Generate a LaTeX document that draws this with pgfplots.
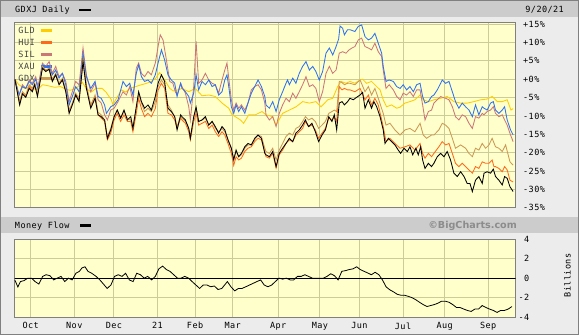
\documentclass[border=0pt]{standalone}
\usepackage{pgfplots}
\pgfplotsset{compat=1.18}
\usepackage{fontspec}
\setmainfont{DejaVu Sans}
\newfontfamily\cf{DejaVu Sans Mono}[LetterSpace=5]
\definecolor{bgc}{HTML}{ECECEC}
\definecolor{hdr}{HTML}{CCCCCC}
\definecolor{plotbg}{HTML}{FFFFCC}
\definecolor{gridc}{HTML}{CCCC99}
\definecolor{axc}{HTML}{808080}
\definecolor{legtxt}{HTML}{444444}
\definecolor{copyc}{HTML}{8C8C8C}
\definecolor{cGLD}{HTML}{FFCC00}
\definecolor{cHUI}{HTML}{FF6A1A}
\definecolor{cSIL}{HTML}{CC7777}
\definecolor{cXAU}{HTML}{2F72F0}
\definecolor{cGDX}{HTML}{CC9955}
\newcommand{\lf}{\cf\fontsize{8.5bp}{10bp}\selectfont}
\pgfplotsset{
  panel/.style={scale only axis, width=501bp, xmin=-0.2, xmax=252.8,
    axis background/.style={fill=plotbg},
    grid=major, major grid style={draw=gridc, line width=0.9bp},
    major tick length=0pt, tick style={draw=none},
    axis line style={draw=axc, line width=1bp},
    xtick={8,30,50,72,91,110,133,154,174,196,217,239},
    yticklabel pos=right,
    ticklabel style={font=\lf},
    clip=true},
  ser/.style={line width=0.85bp, mark=none}
}
\begin{document}
\begin{tikzpicture}
\useasboundingbox (0,0) rectangle (579bp,-335bp);
\fill[bgc] (0,0) rectangle (579bp,-335bp);
\fill[hdr] (0,0) rectangle (579bp,-17bp);
\fill[hdr] (0,-217bp) rectangle (579bp,-232.7bp);
\draw[axc, line width=1bp] (0.5bp,-0.5bp) rectangle (578.5bp,-334.5bp);

\begin{axis}[panel, at={(14.5bp,-207.7bp)}, anchor=south west, height=185bp,
  ymin=-35, ymax=15.4, xticklabels={},
  ytick={-35,-30,-25,-20,-15,-10,-5,0,5,10,15},
  yticklabels={-35\%,-30\%,-25\%,-20\%,-15\%,-10\%,-5\%,+0\%,+5\%,+10\%,+15\%},
  yticklabel style={anchor=west, inner sep=0pt, xshift=7.5bp}]
% legend
\node[anchor=west, text=legtxt, font=\lf, inner sep=0pt] at ([xshift=3.8bp,yshift=-8bp]rel axis cs:0,1) {GLD};
\node[anchor=west, text=legtxt, font=\lf, inner sep=0pt] at ([xshift=3.8bp,yshift=-20bp]rel axis cs:0,1) {HUI};
\node[anchor=west, text=legtxt, font=\lf, inner sep=0pt] at ([xshift=3.8bp,yshift=-32bp]rel axis cs:0,1) {SIL};
\node[anchor=west, text=legtxt, font=\lf, inner sep=0pt] at ([xshift=3.8bp,yshift=-44bp]rel axis cs:0,1) {XAU};
\node[anchor=west, text=legtxt, font=\lf, inner sep=0pt] at ([xshift=3.8bp,yshift=-56bp]rel axis cs:0,1) {GDX};
\draw[cGLD, line width=2.5bp] ([xshift=26.2bp,yshift=-8bp]rel axis cs:0,1) -- ([xshift=37.2bp,yshift=-8bp]rel axis cs:0,1);
\draw[cHUI, line width=2.5bp] ([xshift=26.2bp,yshift=-20bp]rel axis cs:0,1) -- ([xshift=37.2bp,yshift=-20bp]rel axis cs:0,1);
\draw[cSIL, line width=2.5bp] ([xshift=26.2bp,yshift=-32bp]rel axis cs:0,1) -- ([xshift=37.2bp,yshift=-32bp]rel axis cs:0,1);
\draw[cXAU, line width=2.5bp] ([xshift=26.2bp,yshift=-44bp]rel axis cs:0,1) -- ([xshift=37.2bp,yshift=-44bp]rel axis cs:0,1);
\draw[cGDX, line width=2.5bp] ([xshift=26.2bp,yshift=-56bp]rel axis cs:0,1) -- ([xshift=37.2bp,yshift=-56bp]rel axis cs:0,1);

% GLD
\addplot[ser, cGLD] coordinates {(0,0) (2,-1.5) (5,-2.5) (8,-2.0) (11,-3.0) (14,-1.5) (17,-1.8) (20,-2.2) (23,-2.0) (26,-2.8) (28,-3.0) (31,-2.5) (34,-0.8) (36,-2.5) (38.5,-3.5) (41,-2.5) (44,-2.5) (46,-3.5) (48.7,-5.6) (49.5,-7.0) (51,-5.5) (53.8,-2.9) (56,-3.5) (58,-2.5) (61,-2.0) (63.9,-1.5) (66,-1.2) (68.9,-0.6) (71,0.2) (73.1,1.8) (75.6,-0.2) (78.2,-2.5) (80,-3.2) (82.4,-2.9) (84.4,-2.5) (87.8,-3.4) (91.1,-2.5) (94.5,-4.5) (97.9,-4.3) (101.2,-4.7) (104.6,-6.5) (108,-7.9) (109.7,-9.7) (111.3,-10.2) (113.9,-11.1) (115.5,-12.0) (118.1,-9.7) (121.4,-9.7) (124.8,-8.8) (126.8,-9.7) (130.2,-10.2) (131.9,-12.5) (135.2,-9.3) (138.6,-8.4) (142,-7.5) (145.3,-6.1) (148.7,-6.5) (152,-6.1) (154.6,-7.5) (158,-5.6) (160.5,-5.2) (163,-2.0) (164.7,-0.6) (167.2,-1.1) (169.2,-0.6) (171.7,-1.1) (174.3,-0.2) (175.6,0) (177.6,-1.1) (180.1,-0.6) (182.7,-2.0) (184.4,-2.9) (186,-5.6) (187.7,-7.5) (190.2,-7.0) (192.8,-7.9) (194.5,-7.6) (197,-6.5) (199.5,-6.1) (202,-5.6) (204.6,-4.3) (206.2,-5.6) (208.8,-6.1) (211.6,-5.6) (215,-5.2) (218.3,-4.7) (221.7,-6.1) (225.1,-6.5) (228.4,-6.5) (231.8,-6.1) (235.2,-5.6) (238.5,-5.4) (241,-4.7) (243.6,-6.1) (246.1,-6.1) (248.6,-5.6) (250.5,-8.4) (251.6,-8.0)};
% HUI
\addplot[ser, cHUI] coordinates {(0,0) (2.4,-6.5) (3.8,-3.6) (5.5,-4.7) (7.2,-2.0) (8.8,-3.0) (10,-1.3) (11.4,-4.3) (13.9,3.2) (15.6,2.3) (17.3,2.8) (18.9,-0.4) (20.6,1.4) (22.3,-1.3) (24,0) (25.7,-3.2) (27.4,-9.0) (29,-6.8) (30.7,-4.1) (32.4,-5.6) (34.4,5.0) (36.1,-2.0) (38.3,-7.5) (40.5,-4.8) (42,-9.7) (43.6,-10.6) (45.3,-11.5) (46.7,-16.5) (48.4,-14.7) (50.1,-11.1) (51.7,-9.3) (53.4,-11.5) (55.1,-9.7) (56.8,-11.5) (58.5,-11.5) (59.6,-14.3) (61.3,-9.3) (62.5,-5.2) (63.9,-8.0) (65.5,-10.2) (67.2,-9.3) (68.9,-10.2) (70.9,-8.0) (72.3,-3.0) (74,-1.1) (75.6,-2.5) (77.3,-9.3) (79,-9.7) (80.7,-11.1) (81.9,-13.4) (83.7,-10.6) (84.4,-11.1) (86.1,-12.0) (87.8,-14.3) (88.6,-16.5) (90.3,-11.5) (91.5,-9.3) (92.8,-12.5) (94.5,-12.0) (96.2,-11.5) (97.9,-13.4) (99.6,-12.5) (101.2,-14.3) (102.9,-15.6) (104.6,-14.3) (106,-15.2) (107.6,-17.5) (109.3,-20.2) (110.5,-23.5) (111.7,-21.1) (113,-22.0) (114.4,-21.5) (116.1,-19.7) (117.7,-18.8) (119.4,-18.4) (121.1,-17.0) (122.8,-16.1) (124.5,-16.5) (126.2,-19.7) (126.8,-21.1) (128.5,-21.5) (130.2,-20.2) (131.9,-24.2) (133.5,-20.6) (135.2,-19.3) (136.9,-17.5) (138.6,-16.5) (140.3,-17.0) (141.9,-15.2) (143.6,-14.3) (145.3,-13.4) (146.7,-11.5) (148.3,-12.9) (150,-12.5) (151.7,-13.8) (153.4,-16.1) (155.1,-14.7) (156.8,-13.4) (158.5,-10.6) (160.1,-11.1) (161.3,-10.2) (162.5,-11.5) (163.8,-2.0) (165.2,-2.9) (166.4,-2.5) (168,-2.9) (169.2,-2.9) (171.7,-3.4) (174.3,-2.5) (176.8,-5.6) (178.5,-4.3) (180.1,-7.0) (181.8,-5.2) (183.5,-7.0) (186,-12.9) (187.4,-17.0) (189.4,-16.1) (191.9,-17.5) (194.5,-18.8) (197,-18.4) (199.5,-17.9) (202,-19.3) (204.6,-17.5) (205.9,-20.2) (207.1,-21.5) (208.8,-20.2) (210.4,-21.1) (211.6,-20.2) (214.1,-18.4) (215.8,-17.0) (217.5,-17.9) (219.2,-17.5) (220.9,-20.2) (222.5,-22.9) (224.2,-23.8) (225.9,-22.9) (227.6,-23.8) (229.3,-24.7) (231,-25.6) (232.6,-23.8) (234.3,-24.3) (236,-22.5) (237.7,-22.9) (239.4,-22.9) (241,-22.0) (241.9,-23.8) (242.7,-23.8) (244.4,-24.3) (246.1,-25.2) (247.3,-23.8) (248.6,-24.7) (250,-27.5) (251.6,-28.0)};
% SIL
\addplot[ser, cSIL] coordinates {(0,0) (2.1,-4.3) (3.8,-1.5) (5.5,-2.5) (7.2,-0.2) (8.8,-1.1) (10.5,0.7) (11.7,-2.0) (13.9,4.4) (15.6,3.5) (17.3,4.8) (18.9,1.6) (20.6,3.5) (22.3,0.7) (24,1.6) (25.7,-0.6) (27.4,-6.1) (29,-3.4) (30.7,-0.6) (32.4,-1.5) (34.4,8.5) (36.1,1.2) (38.3,-3.4) (40.5,-1.1) (42,-5.6) (43.6,-6.5) (45.3,-9.7) (46.7,-11.1) (48.4,-8.4) (50.1,-7.9) (52.1,-6.1) (54.6,-3.4) (56.3,-4.3) (58,-2.0) (59.6,-6.1) (61.3,3.0) (62.5,4.4) (63.9,1.6) (65.5,0.7) (67.2,2.1) (68.9,1.2) (70.9,4.4) (72.3,8.9) (73.4,12.1) (74.8,10.7) (76.5,5.3) (78.2,-0.6) (79.8,-1.1) (81,-3.4) (81.9,-4.3) (83.7,-1.1) (84.4,-2.0) (86.1,-3.8) (87.8,-7.5) (88.6,-11.1) (90.3,-2.0) (91.5,10.3) (92.8,-1.1) (94.5,-0.2) (96.2,1.6) (97.9,-0.2) (99.6,-1.1) (101.2,-1.5) (102.9,-3.8) (104.6,-0.2) (106,2.5) (107.1,4.4) (108,0.3) (109.3,-5.6) (110.5,-8.4) (111.7,-6.5) (113,-7.9) (114.4,-7.0) (116.1,-8.4) (117.7,-6.5) (119.4,-2.9) (121.1,-2.0) (122.8,-1.5) (124.5,-2.9) (126.2,-6.5) (126.8,-9.7) (128.5,-11.1) (130.2,-10.2) (131.9,-12.9) (133.5,-9.3) (135.2,-7.0) (136.9,-5.2) (138.6,-6.1) (140.3,-3.8) (141.9,-5.2) (143.6,-3.4) (145.3,-1.5) (147,0.7) (148.7,-2.0) (150.4,-1.5) (152,-2.5) (153.7,-6.1) (155.4,-3.4) (157.1,1.6) (158.8,3.5) (160.5,1.6) (162.2,2.5) (163.8,7.1) (165.5,7.5) (167.2,7.1) (168.8,8.0) (170.2,8.5) (171.7,8.9) (173.4,10.7) (175.1,11.2) (176.8,8.9) (178.5,8.5) (180.1,8.0) (181.8,9.8) (183.5,7.5) (185.2,6.2) (186,2.5) (187.4,-2.5) (189,-1.5) (191.1,-2.9) (192.8,-4.7) (194.5,-5.6) (196.1,-3.8) (197.8,-4.3) (199.5,-3.4) (201.2,-4.7) (202.9,-2.9) (204.6,-2.9) (205.9,-7.0) (207.1,-11.1) (208.8,-8.8) (210.4,-8.4) (211.6,-6.5) (213.3,-5.6) (215,-4.7) (215.8,-4.9) (217.5,-5.2) (219.2,-5.6) (220.9,-7.5) (222.5,-10.2) (224.2,-11.1) (225.9,-9.7) (227.6,-10.2) (229.3,-12.0) (231,-13.4) (232.6,-10.2) (234.3,-10.6) (236,-9.3) (236.9,-9.7) (238.5,-8.8) (240.2,-8.4) (241.6,-7.5) (242.7,-9.3) (244.4,-10.2) (246.1,-9.7) (247.3,-11.1) (248.6,-12.5) (250.3,-15.2) (251.6,-17.0)};
% XAU
\addplot[ser, cXAU] coordinates {(0,0) (2.1,-4.3) (3.8,-2.0) (5.5,-2.5) (7.2,-0.6) (8.8,-1.5) (10.5,0) (11.7,-2.9) (13.9,3.9) (15.6,3.5) (17.3,3.5) (18.9,1.2) (20.6,2.5) (22.3,0.3) (24,1.6) (25.7,-1.5) (27.4,-7.0) (29,-4.7) (30.7,-2.0) (32.4,-3.4) (34.4,7.1) (36.1,0.7) (38.3,-2.5) (40.5,-0.6) (42,-4.7) (43.6,-5.2) (45.3,-7.0) (46.2,-9.3) (48.4,-7.5) (50.1,-7.0) (52.1,-5.6) (54.6,-0.6) (56.3,-2.0) (58,-1.1) (59.6,-4.3) (61.3,1.6) (62.5,3.9) (63.9,0.7) (65.5,-0.6) (67.2,-0.2) (68.9,-1.1) (70.9,1.2) (72.3,4.4) (74,8.0) (75.6,5.3) (77.3,1.2) (79,-0.2) (80.7,-1.1) (81.9,-4.7) (83.7,-1.1) (84.4,-2.5) (86.1,-3.4) (87.8,-4.7) (88.6,-6.5) (90.3,-3.8) (91.5,1.2) (92.8,-2.9) (94.5,-0.6) (96.2,-1.5) (97.9,-0.2) (99.6,-2.0) (101.2,-1.5) (102.9,-4.3) (104.6,-3.4) (106,-0.2) (107.1,1.2) (108,-2.0) (109.3,-7.5) (110.5,-9.3) (111.7,-7.0) (113,-8.8) (114.4,-7.5) (116.1,-9.3) (117.7,-6.5) (119.4,-3.8) (121.1,-2.0) (122.8,-0.2) (124.5,-2.0) (126.2,-4.7) (126.8,-7.0) (128.5,-7.9) (130.2,-6.1) (131.9,-8.8) (133.5,-5.6) (135.2,-3.4) (136.9,-1.1) (137.7,-0.2) (138.6,-1.5) (140.3,0.3) (141.9,-1.1) (143.6,1.6) (145.3,3.5) (147,4.8) (148.7,2.5) (150.4,3.5) (152,2.1) (153.7,-0.2) (155.4,2.1) (157.1,7.1) (158.8,8.5) (160.5,6.6) (162.2,8.9) (163.5,11.0) (164.2,14.5) (165.5,13.9) (166.4,12.1) (168,13.5) (169.2,13.5) (171.7,13.0) (173.4,14.4) (175.1,14.8) (176.8,11.6) (178.5,10.7) (180.1,11.2) (181.8,12.5) (183.5,9.8) (185.2,7.1) (186,3.5) (187.4,-0.6) (189,-0.2) (191.1,-0.6) (192.8,-2.0) (194.5,-2.5) (196.1,-1.5) (197.8,-2.9) (199.5,-2.0) (201.2,-3.4) (202.9,-1.5) (204.6,-1.1) (205.9,-4.7) (207.1,-6.5) (208.8,-6.1) (210.4,-4.7) (211.6,-4.3) (213.3,-2.9) (215,-1.1) (215.8,-0.2) (217.5,-1.1) (219.2,-0.6) (220.9,-3.4) (222.5,-6.1) (224.2,-7.9) (225.9,-6.5) (227.6,-7.5) (229.3,-8.4) (231,-10.2) (232.6,-7.0) (234.3,-9.7) (236,-7.5) (236.9,-7.9) (238.5,-8.4) (240.2,-6.5) (241.6,-6.1) (242.7,-8.4) (244.4,-9.3) (246.1,-8.4) (247.3,-7.5) (248.6,-11.1) (250.3,-13.8) (251.6,-15.2)};
% GDX
\addplot[ser, cGDX] coordinates {(0,0) (2.4,-6.1) (3.8,-3.4) (5.5,-4.3) (7.2,-1.5) (8.8,-2.5) (10,-1.1) (11.4,-4.0) (13.9,3.5) (15.6,2.5) (17.3,3.0) (18.9,0) (20.6,1.6) (22.3,-1.1) (24,0.3) (25.7,-2.9) (27.4,-8.4) (29,-6.5) (30.7,-3.8) (32.4,-5.2) (34.4,5.7) (36.1,-1.5) (38.3,-7.0) (40.5,-4.3) (42,-9.0) (43.6,-9.7) (45.3,-11.1) (46.7,-15.6) (48.4,-13.4) (50.1,-10.2) (51.7,-8.4) (53.4,-10.6) (55.1,-8.8) (56.8,-10.6) (58.5,-11.1) (59.6,-12.9) (61.3,-7.9) (62.5,-4.0) (63.9,-6.5) (65.5,-8.8) (67.2,-7.9) (68.9,-8.8) (70.9,-6.1) (72.3,-2.0) (74,-0.2) (75.6,-1.5) (77.3,-7.0) (79,-8.4) (80.7,-10.2) (81.9,-12.9) (83.7,-10.2) (84.4,-10.6) (86.1,-11.5) (87.8,-13.4) (88.6,-15.6) (90.3,-10.6) (91.5,-8.0) (92.8,-11.5) (94.5,-11.1) (96.2,-10.6) (97.9,-12.5) (99.6,-11.5) (101.2,-13.4) (102.9,-14.3) (104.6,-13.4) (106,-14.3) (107.6,-16.5) (109.3,-18.8) (110.5,-21.5) (111.7,-19.7) (113,-21.1) (114.4,-20.6) (116.1,-18.8) (117.7,-17.9) (119.4,-17.9) (121.1,-16.5) (122.8,-15.2) (124.5,-15.6) (126.2,-18.8) (126.8,-19.7) (128.5,-20.2) (130.2,-18.8) (131.9,-22.0) (133.5,-19.3) (135.2,-17.5) (136.9,-15.6) (138.6,-14.7) (140.3,-15.2) (141.9,-13.4) (143.6,-12.9) (145.3,-11.5) (146.7,-10.2) (148.3,-11.1) (150,-10.6) (151.7,-11.5) (153.4,-13.4) (155.1,-12.5) (156.8,-11.5) (158.5,-9.3) (160.1,-8.8) (161.3,-8.4) (162.5,-8.8) (163.8,-0.6) (165.2,-0.9) (166.4,-1.5) (168,-1.1) (169.2,-1.1) (171.7,-1.5) (174.3,-0.2) (176.8,-3.4) (178.5,-2.0) (180.1,-4.3) (181.8,-2.5) (183.5,-5.2) (186,-9.3) (187.4,-12.5) (189.4,-12.0) (191.9,-13.8) (194.5,-15.2) (197,-13.8) (199.5,-13.4) (202,-14.3) (204.6,-12.0) (206.2,-15.2) (207.9,-16.1) (210.4,-15.2) (211.6,-15.2) (214.1,-13.8) (215.8,-12.0) (217.5,-12.5) (219.2,-13.4) (220.9,-16.1) (222.5,-18.8) (225.1,-17.9) (227.6,-18.8) (229.3,-20.2) (231,-21.1) (232.6,-18.8) (234.3,-19.3) (236,-17.5) (237.7,-18.8) (239.4,-17.9) (241,-16.1) (242.7,-18.4) (244.4,-18.8) (246.1,-19.7) (247.8,-17.9) (250,-22.5) (251.6,-23.4)};
% GDXJ
\addplot[ser, black] coordinates {(0,0) (2.4,-7.0) (3.8,-4.0) (5.5,-4.9) (7.2,-2.5) (8.8,-3.4) (10,-1.5) (11.4,-4.7) (13.9,3.0) (15.6,2.1) (17.3,2.7) (18.9,-0.6) (20.6,1.2) (22.3,-1.5) (24,-0.2) (25.7,-3.4) (27.4,-9.3) (29,-7.0) (30.7,-4.3) (32.4,-6.1) (34.4,4.8) (36.1,-2.5) (38.3,-7.9) (40.5,-5.2) (42,-9.7) (43.6,-10.2) (45.3,-11.1) (46.7,-16.1) (48.4,-13.8) (50.1,-10.2) (51.7,-8.4) (53.4,-10.6) (55.1,-8.4) (56.8,-11.1) (58.5,-10.2) (59.6,-13.4) (61.3,-7.5) (62.5,-3.4) (63.9,-6.1) (65.5,-7.9) (67.2,-7.0) (68.9,-8.4) (70.9,-4.7) (72.3,-1.1) (74,1.2) (75.6,-0.6) (77.3,-7.9) (79,-8.8) (80.7,-10.2) (81.9,-13.8) (83.7,-9.7) (84.4,-10.2) (86.1,-11.1) (87.8,-13.4) (88.6,-16.1) (90.3,-10.2) (91.5,-7.6) (92.8,-11.5) (94.5,-11.1) (96.2,-10.2) (97.9,-12.5) (99.6,-11.5) (101.2,-12.9) (102.9,-14.7) (104.6,-12.9) (106,-13.8) (107.6,-16.5) (109.3,-18.8) (110.5,-22.0) (111.7,-19.3) (113,-21.1) (114.4,-20.2) (116.1,-18.4) (117.7,-17.5) (119.4,-17.9) (121.1,-16.1) (122.8,-15.2) (124.5,-16.1) (126.2,-20.2) (126.8,-20.6) (128.5,-21.1) (130.2,-19.7) (131.9,-23.8) (133.5,-20.2) (135.2,-18.8) (136.9,-17.5) (138.6,-16.1) (140.3,-17.0) (141.9,-14.7) (143.6,-13.8) (145.3,-12.5) (146.7,-11.1) (148.3,-12.9) (150,-12.0) (151.7,-14.3) (153.4,-17.0) (155.1,-15.2) (156.8,-13.8) (158.5,-10.2) (160.1,-11.5) (161.3,-9.7) (162.5,-13.8) (163.8,-6.5) (165.2,-6.1) (166.4,-7.0) (168,-6.1) (169.2,-5.2) (170.9,-5.6) (172.6,-4.9) (174.3,-4.3) (175.6,-3.6) (176.8,-7.9) (178.5,-5.6) (180.1,-7.9) (181.3,-6.1) (182.7,-7.5) (184.4,-10.2) (186,-13.8) (186.9,-17.5) (188.6,-16.1) (190.2,-17.0) (191.9,-17.9) (193.6,-19.3) (194.8,-20.2) (196.5,-18.8) (198.2,-19.7) (199.5,-18.4) (200.9,-20.6) (202.5,-18.8) (203.7,-20.6) (204.9,-18.4) (205.9,-22.0) (207.1,-24.3) (208.8,-22.9) (210.4,-23.8) (211.6,-22.9) (213.3,-21.1) (215,-20.2) (216.7,-21.1) (218.3,-19.7) (220,-22.0) (221.7,-25.6) (223.4,-26.5) (225.1,-25.2) (226.8,-26.5) (228.4,-28.4) (229.8,-28.4) (231,-30.6) (232.6,-27.5) (234.3,-26.5) (236,-28.4) (236.9,-25.6) (238.5,-25.2) (240.2,-25.6) (241.6,-24.5) (242.7,-26.5) (244.4,-27.5) (246.1,-28.8) (247.3,-26.5) (248.6,-27.0) (250,-29.3) (251.6,-30.6)};
\end{axis}

\begin{axis}[panel, at={(14.5bp,-317.3bp)}, anchor=south west, height=78.3bp,
  ymin=-4, ymax=4, ytick={-4,-2,0,2,4}, yticklabels={-4,-2,0,2,4},
  yticklabel style={anchor=east, inner sep=0pt, xshift=14bp},
  xticklabels={Oct,Nov,Dec,21,Feb,Mar,Apr,May,Jun,Jul,Aug,Sep},
  xticklabel style={anchor=north, inner sep=0pt, yshift=-5bp}]
\addplot[black, line width=1.2bp, forget plot] coordinates {(-5,0) (260,0)};
\addplot[ser, black, line width=0.8bp] coordinates {(0,-0.2) (1.5,-0.9) (2.8,-0.35) (4.6,-0.25) (6.5,0) (8.4,0) (10.2,-0.35) (12.1,-0.6) (14,0.18) (15.8,0.35) (17.7,0.25) (19.6,-0.18) (21.4,0) (23.3,0.18) (25.2,-0.35) (27,0) (28.9,-0.18) (30.8,0.5) (32.6,0.7) (33.9,1.05) (35.4,1.16) (36.9,0.7) (38.8,0.5) (41,0.18) (42.9,-0.18) (44.7,-0.6) (46.6,-1.05) (48.5,-0.7) (50.3,0.18) (52.2,0.35) (54.1,0.18) (55.9,0.5) (57.8,-0.18) (59.7,-0.35) (61.5,0.5) (63.4,0.35) (65.3,0) (67.1,0.18) (69,-0.18) (70.9,0.18) (72.7,0.95) (74.6,1.23) (76.5,0.88) (78.3,0.7) (80.2,0.35) (82.1,0) (83.9,0) (85.8,0.18) (87.7,0) (89.5,-0.35) (91.4,-0.7) (93.3,-1.05) (95.1,-0.7) (97,-0.7) (98.9,-0.88) (100.7,-0.8) (102.6,-1.16) (104.5,-1.05) (107.3,-0.35) (109.1,-0.88) (111,-1.3) (112.9,-1.05) (114.7,-1.05) (116.6,-0.88) (118.5,-0.7) (120.3,-0.53) (122.2,-0.35) (124.1,-0.18) (125.9,-0.7) (127.8,-0.88) (129.7,-0.7) (131.5,-0.35) (133.4,0) (135.2,-0.1) (137.1,0) (139,-0.18) (140.8,-0.18) (142.7,0.18) (144.6,0.18) (146.4,0.35) (148.3,0.18) (150.2,0) (152,0) (153.9,0) (155.8,0) (157.6,0.18) (159.5,0.45) (161.4,0.25) (163.2,-0.18) (165.1,0.7) (167,0.77) (168.8,0.88) (170.7,0.95) (172.6,1.16) (174.4,0.88) (176.3,0.7) (178.2,0.53) (180,0.35) (181.9,0.6) (183.8,0.35) (185.6,-0.18) (187.5,-0.9) (189.4,-1.2) (191.2,-1.4) (193.1,-1.65) (195,-1.75) (196.8,-1.75) (198.7,-1.86) (200.6,-2.0) (202.4,-2.2) (204.3,-2.46) (206.2,-2.7) (208.1,-2.9) (209.9,-2.8) (211.8,-2.7) (213.6,-2.56) (215.5,-2.35) (217.3,-2.35) (219.2,-2.46) (221.1,-2.7) (223,-3.0) (224.8,-3.0) (226.7,-3.16) (228.5,-3.3) (230.4,-3.4) (232.3,-3.16) (234.1,-3.16) (236,-2.8) (237.9,-3.0) (239.7,-3.16) (241.6,-3.3) (243.5,-3.5) (245.3,-3.3) (247.2,-3.3) (249.1,-3.16) (251,-2.9)};
\end{axis}

% headers
\node[anchor=west, font=\lf, inner sep=0pt] at (15bp,-9.7bp) {GDXJ Daily};
\fill[black] (79bp,-8.6bp) rectangle (91bp,-11.2bp);
\node[anchor=east, font=\lf, inner sep=0pt] at (564bp,-9.3bp) {9/20/21};
\node[anchor=west, font=\lf, inner sep=0pt] at (14.8bp,-225.7bp) {Money Flow};
\fill[black] (79.5bp,-224.4bp) rectangle (90.5bp,-227bp);
\node[anchor=east, font=\bfseries\fontsize{9.6bp}{11bp}\selectfont, text=copyc, inner sep=0pt] at (517bp,-225.7bp) {©BigCharts.com};
\node[rotate=90, font=\lf, inner sep=0pt] at (567.5bp,-275.5bp) {Billions};
\end{tikzpicture}
\end{document}
